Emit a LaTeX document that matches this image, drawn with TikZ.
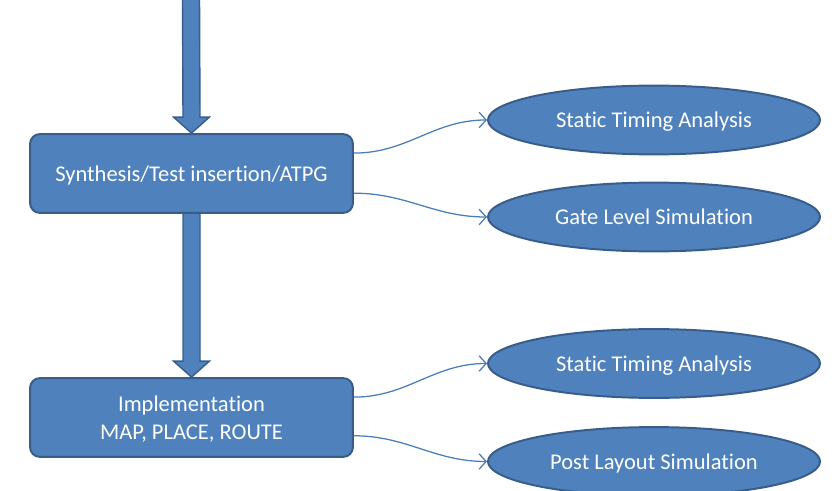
\documentclass[tikz,border=0pt]{standalone}
\usepackage{fontspec}
\setmainfont{Carlito}[RawFeature=-liga]
\usetikzlibrary{arrows.meta,calc,shapes.geometric,backgrounds}
\definecolor{flowfill}{HTML}{4F81BD}
\definecolor{flowline}{HTML}{385D8A}
\definecolor{linkline}{HTML}{4A7EBB}
\tikzset{>=Latex,
  every node/.style={font=\fontsize{16}{19.5}\selectfont,text=white},
  stage/.style={draw=flowline,fill=flowfill,line width=1.4pt,rounded corners=7pt,
    minimum width=8.07cm,minimum height=1.97cm,align=center,text depth=0pt},
  check/.style={ellipse,draw=flowline,fill=flowfill,line width=1.4pt,
    minimum width=8.3cm,minimum height=1.72cm,inner sep=0pt,text depth=0pt},
  link/.style={draw=linkline,line width=.9pt,-{Straight Barb[length=5pt,width=11pt]}},
  fatarrow/.style={draw=flowline,fill=flowfill,line width=1pt}}
% broad down arrow: shaft 17px, head 36px wide and 16px deep
\newcommand\fatarrow[2]{\draw[fatarrow] ($(#1)+(-8.5,0)$) -- ($(#2)+(-8.5,-16)$)
  -- ($(#2)+(-18,-16)$) -- (#2) -- ($(#2)+(18,-16)$) -- ($(#2)+(8.5,-16)$) -- ($(#1)+(8.5,0)$);}

\begin{document}
\begin{tikzpicture}[x=0.025cm,y=-0.025cm]
\useasboundingbox (0,0) rectangle (840,491);
\coordinate (feed) at (191,-3);
\node[stage] (synth) at (191.5,173.5) {Synthesis/Test insertion/ATPG};
\node[stage] (impl) at (191.5,417.5) {Implementation\\MAP, PLACE, ROUTE};
\node[check] (sta1) at (654,120) {Static Timing Analysis};
\node[check] (gls) at (654,217) {Gate Level Simulation};
\node[check] (sta2) at (654,363.5) {Static Timing Analysis};
\node[check] (pls) at (654,461.5) {Post Layout Simulation};
\begin{scope}[on background layer]
\fatarrow{feed}{synth.north}
\fatarrow{synth.south}{impl.north}
\end{scope}
% thin S-shaped links into the checks
\draw[link] ([yshift=14.5pt]synth.east) to[out=0,in=180] (sta1.west);
\draw[link] ([yshift=-14pt]synth.east) to[out=0,in=180] (gls.west);
\draw[link] ([yshift=14.5pt]impl.east) to[out=0,in=180] (sta2.west);
\draw[link] ([yshift=-13pt]impl.east) to[out=0,in=180] (pls.west);
\end{tikzpicture}
\end{document}
